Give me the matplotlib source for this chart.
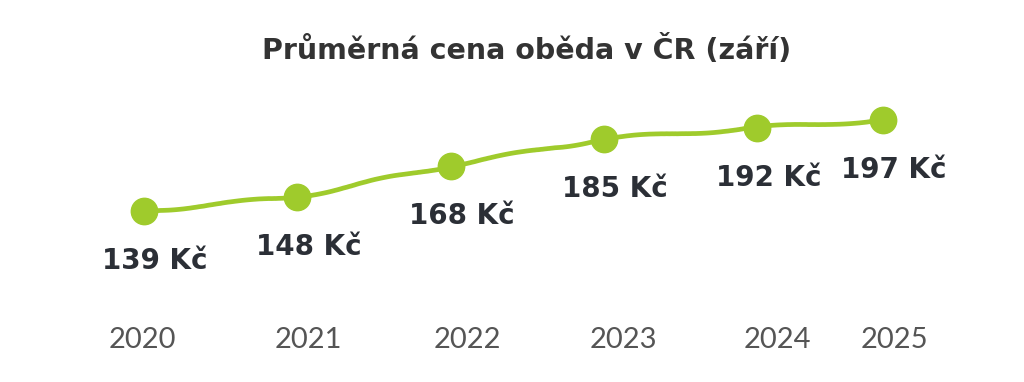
import matplotlib
matplotlib.use("Agg")
import matplotlib.pyplot as plt
from matplotlib import transforms

years = ["2020", "2021", "2022", "2023", "2024", "2025"]
x_pos = [0, 1, 2, 3, 4, 4.82]
prices = [139, 148, 168, 185, 192, 197]
value_labels = [f"{p} Kč" for p in prices]
title = "Průměrná cena oběda v ČR (září)"

# layout: horizontal pixel nudges of the year labels relative to the points
year_nudge_px = [-2, 11, 17, 19, 20, 11]

GREEN = "#9FCB2C"
DARK = "#2B2F36"
GRAY = "#555555"

plt.rcParams['font.family'] = ['Lato', 'DejaVu Sans']

fig = plt.figure(figsize=(10.24, 3.82), dpi=100)
ax = fig.add_axes([0, 0, 1, 1])
ax.set_xlim(-0.939, 5.740)
ax.set_ylim(30.0, 273.5)
ax.axis('off')

line, = ax.plot(x_pos, prices, color=GREEN, lw=3.4, solid_capstyle='round', zorder=2)
line.set_sketch_params(scale=1.6, length=150, randomness=2)
ax.plot(x_pos, prices, 'o', color=GREEN, ms=19, zorder=3)

for x, p, lab in zip(x_pos, prices, value_labels):
    ax.annotate(lab, (x, p), xytext=(8, -36), textcoords='offset points',
                ha='center', va='center', fontsize=20, fontweight='bold', color=DARK,
                family=['DejaVu Sans'])

blend = transforms.blended_transform_factory(ax.transData, ax.transAxes)
for x, y, n in zip(x_pos, years, year_nudge_px):
    shift = transforms.ScaledTranslation(n / 100, 0, fig.dpi_scale_trans)
    ax.text(x, 0.11, y, transform=blend + shift,
            ha='center', va='center', fontsize=21, fontweight='normal', color=GRAY)

fig.text(0.514, 0.868, title, ha='center', va='center', fontsize=20.5, fontweight='bold', color="#333333",
         family=['DejaVu Sans'])

fig.savefig("out.png", dpi=100)
